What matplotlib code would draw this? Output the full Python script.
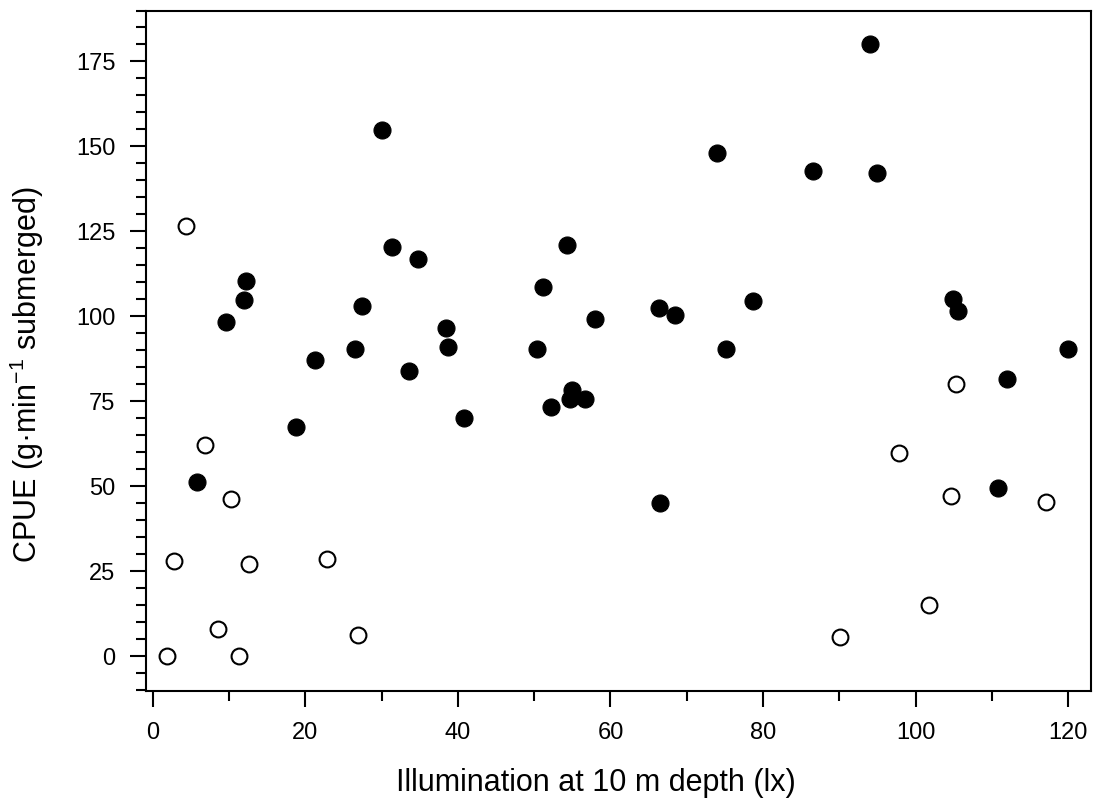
import matplotlib
matplotlib.use("Agg")
import matplotlib.pyplot as plt
from matplotlib.ticker import MultipleLocator

plt.rcParams['font.family'] = ['Liberation Sans', 'DejaVu Sans']
plt.rcParams['mathtext.fontset'] = 'custom'
plt.rcParams['mathtext.rm'] = 'Liberation Sans'
plt.rcParams['mathtext.default'] = 'regular'

# Filled circles
filled_x = [30.0, 31.4, 34.7, 54.3, 12.2, 11.9, 9.6, 27.4, 51.1, 38.4, 58.0, 38.7,
            26.5, 50.3, 21.2, 33.6, 40.8, 52.2, 54.7, 55.0, 56.7, 18.8, 5.8,
            94.0, 73.9, 86.6, 94.9, 66.3, 68.5, 78.7, 104.9, 105.6, 75.2, 120.0,
            112.0, 66.5, 110.8]
filled_y = [154.7, 120.3, 116.9, 121.0, 110.3, 104.8, 98.4, 103.1, 108.5, 96.4, 99.2, 91.0,
            90.3, 90.5, 87.1, 83.8, 70.2, 73.3, 75.6, 78.4, 75.6, 67.4, 51.2,
            180.0, 148.1, 142.7, 142.3, 102.4, 100.4, 104.6, 105.1, 101.6, 90.3, 90.3,
            81.4, 45.1, 49.4]

# Open circles
open_x = [4.3, 6.9, 10.2, 2.8, 12.6, 22.8, 8.6, 26.9, 1.8, 11.3,
          105.3, 97.8, 104.6, 117.1, 101.8, 90.1]
open_y = [126.5, 62.1, 46.2, 28.0, 27.0, 28.5, 7.9, 6.1, 0.0, 0.0,
          80.0, 59.8, 47.1, 45.4, 14.9, 5.5]

x_ticks = [0, 20, 40, 60, 80, 100, 120]
y_ticks = [0, 25, 50, 75, 100, 125, 150, 175]

fig = plt.figure(figsize=(10.96, 8.11), dpi=100)
ax = fig.add_axes([146/1096, 120/811, 945/1096, 680.5/811])

ax.scatter(filled_x, filled_y, s=150, facecolor='black', edgecolor='black',
           linewidths=0.8, zorder=3)
ax.scatter(open_x, open_y, s=130, facecolor='white', edgecolor='black',
           linewidths=1.5, zorder=3)

ax.set_xlim(-0.9, 123)
ax.set_ylim(-10.3, 190)
ax.set_xticks(x_ticks)
ax.set_yticks(y_ticks)
ax.xaxis.set_minor_locator(MultipleLocator(10))
ax.yaxis.set_minor_locator(MultipleLocator(5))

for sp in ax.spines.values():
    sp.set_linewidth(1.5)

ax.tick_params(axis='both', which='major', direction='out', length=11.5, width=1.5,
               labelsize=17)
ax.tick_params(axis='both', which='minor', direction='out', length=7, width=1.5)
ax.tick_params(axis='y', which='major', pad=10.5)
ax.tick_params(axis='x', which='major', pad=10.5)
ax.tick_params(top=False, right=False, which='both')

ax.set_xlabel('Illumination at 10 m depth (lx)', fontsize=22)
ax.set_ylabel('CPUE (g·min$^{-1}$ submerged)', fontsize=22)
ax.xaxis.set_label_coords(0.476, -0.113)
ax.yaxis.set_label_coords(-0.106, 0.465)

fig.savefig('out.png', dpi=100)
